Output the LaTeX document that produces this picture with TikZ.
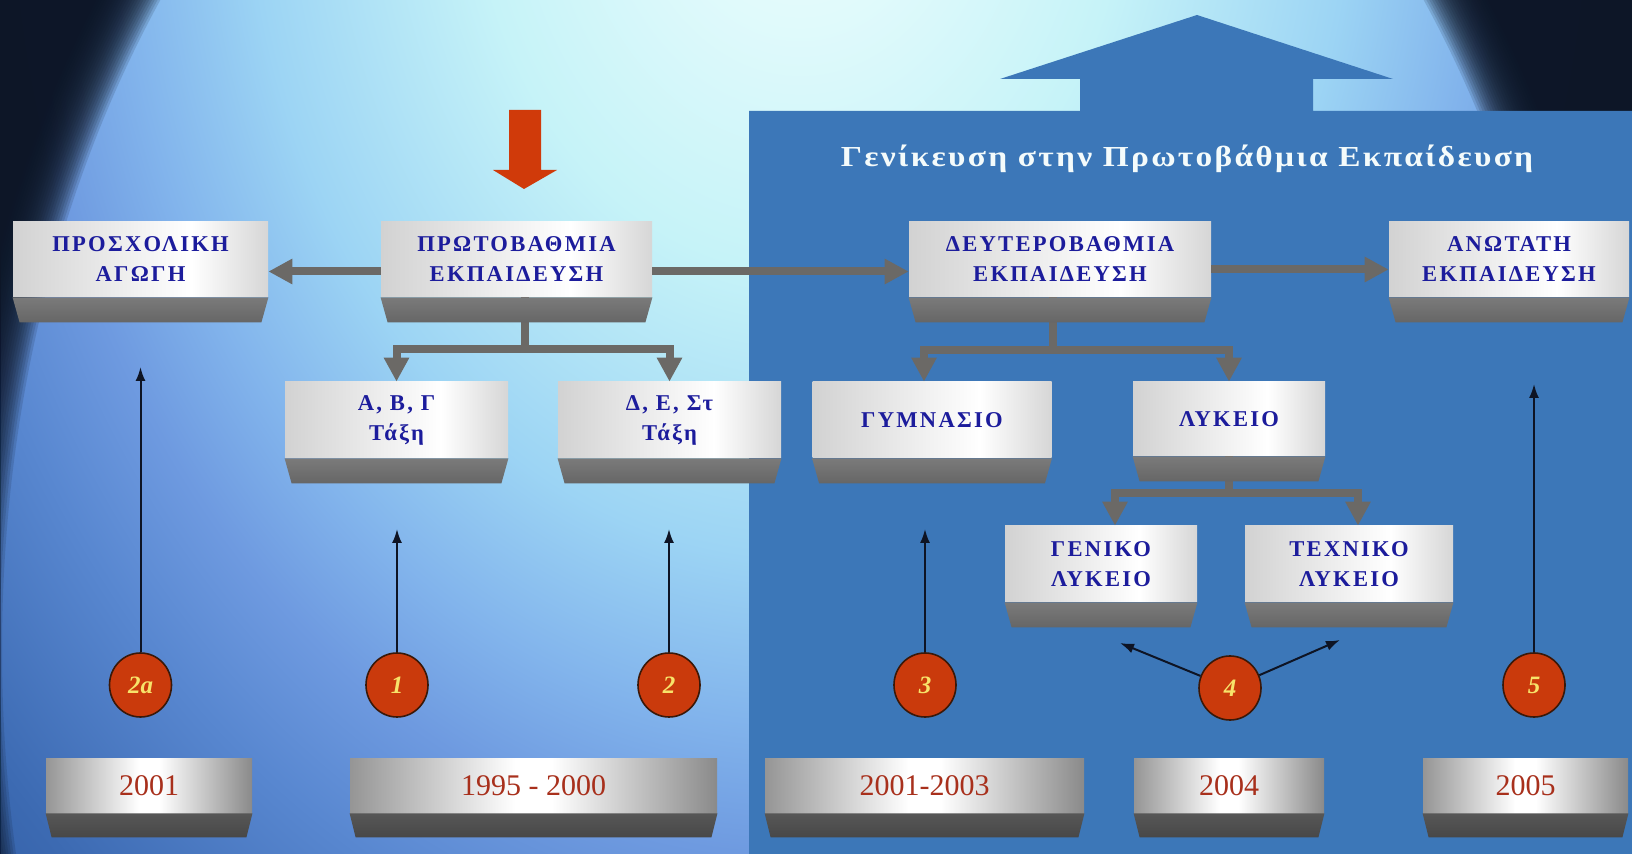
\documentclass[tikz,border=0pt]{standalone}
\usepackage{fontspec}
\setmainfont{Liberation Serif}
\newfontfamily\boxfont{Liberation Serif}[LetterSpace=10]
\newfontfamily\titlefont{Liberation Serif}[LetterSpace=8,FakeStretch=1.15]
\usetikzlibrary{shapes.geometric,arrows.meta}

\definecolor{darkbg}{HTML}{0D1626}
\definecolor{panelblue}{HTML}{3C77B8}
\definecolor{boxtext}{HTML}{1C1C9C}
\definecolor{yeartext}{HTML}{A8301C}
\definecolor{conngray}{HTML}{6B6966}
\definecolor{numred}{HTML}{CA3A0C}
\definecolor{numedge}{HTML}{3A1808}
\definecolor{numtext}{HTML}{F7E36A}
\definecolor{arrowred}{HTML}{D03A0A}
\definecolor{pointerblack}{HTML}{0E1424}
\definecolor{titlewhite}{HTML}{F4FBFB}
\definecolor{sp0}{HTML}{EEFDFD}
\definecolor{sp1}{HTML}{E0FAFB}
\definecolor{sp2}{HTML}{C6F3F8}
\definecolor{sp3}{HTML}{9CD4F4}
\definecolor{sp4}{HTML}{82B4EC}
\definecolor{sp5}{HTML}{6E9AE0}
\definecolor{sp6}{HTML}{5887D0}
\definecolor{sp7}{HTML}{3C6AB2}
\definecolor{sp8}{HTML}{335FA6}
\definecolor{bf0}{HTML}{D2D2D2}
\definecolor{bf1}{HTML}{D6D6D6}
\definecolor{yf0}{HTML}{959595}
\definecolor{yf1}{HTML}{8A8A8A}

% 25bp が図形の縁になる
\pgfdeclareradialshading{spot}{\pgfpointorigin}{color(0bp)=(sp0); color(2.9bp)=(sp1); color(7bp)=(sp2); color(11.8bp)=(sp3); color(14.6bp)=(sp4); color(16.8bp)=(sp5); color(19.2bp)=(sp6); color(23bp)=(sp7); color(25bp)=(sp8); color(50bp)=(sp8)}
\pgfdeclarehorizontalshading{boxface}{100bp}{color(0bp)=(bf0); color(25bp)=(bf0); color(60bp)=(white); color(75bp)=(bf1); color(100bp)=(bf1)}
\pgfdeclarehorizontalshading{yearface}{100bp}{color(0bp)=(yf0); color(25bp)=(yf0); color(47.5bp)=(white); color(52.5bp)=(white); color(75bp)=(yf1); color(100bp)=(yf1)}

\tikzset{
  edubox/.style={shade, shading=boxface, minimum height=37.5pt, inner sep=0pt, align=center,
    text=boxtext, font=\boxfont\bfseries\fontsize{11.3}{15}\selectfont},
  yearbox/.style={shade, shading=yearface, minimum height=27.5pt, inner sep=0pt,
    text=yeartext, font=\fontsize{15}{18}\selectfont},
  boxbase/.style={top color=black!52, bottom color=black!60},
  yearbase/.style={top color=black!66, bottom color=black!72},
  connline/.style={draw=conngray, line width=4pt},
  conn/.style={connline, -{Triangle[length=12pt,width=12pt]}},
  numdot/.style={ellipse, fill=numred, draw=numedge, line width=0.8pt, minimum width=31pt,
    minimum height=32pt, inner sep=0pt, text=numtext, font=\bfseries\itshape\fontsize{12.5}{14}\selectfont},
  pointer/.style={draw=pointerblack, line width=1pt, -{Latex[length=7pt,width=5pt]}},
  heading/.style={text=titlewhite, font=\titlefont\bfseries\fontsize{14.5}{17}\selectfont}
}

\begin{document}
\begin{tikzpicture}[x=0.5pt,y=-0.5pt]
  \useasboundingbox (0,0) rectangle (1632,854);
  \clip (0,0) rectangle (1632,854);
  % 背景の光
  \shade[shading=spot] (800,-150) ellipse [x radius=1170, y radius=1495];
  % 四隅を暗くする
  \foreach \i in {0,...,23} {
    \pgfmathsetmacro\ra{790+2.5*\i}
    \pgfmathsetmacro\rb{1082+2.5*\i}
    \fill[darkbg, opacity=0.14, even odd rule] (0,0) rectangle (1632,854) (792,650) ellipse [x radius=\ra, y radius=\rb];
  }
  % 右側の青いパネルと上向きの矢印
  \fill[panelblue] (749,854) -- (749,111) -- (1080,111) -- (1080,79) -- (1000,79) -- (1197,15)
    -- (1393,79) -- (1313,79) -- (1313,111) -- (1632,111) -- (1632,854) -- cycle;
  \node[heading, anchor=base] (gen) at (1187,167) {Γενίκευση στην Πρωτοβάθμια Εκπαίδευση};
  % 赤い下向きの矢印
  \fill[arrowred] (509,110) -- (541,110) -- (541,170) -- (557,170) -- (524,189) -- (493,170) -- (509,170) -- cycle;

  % 教育段階の箱
  \node[edubox, minimum width=127.5pt] (pre) at (140.5,259.5) {ΠΡΟΣΧΟΛΙΚΗ\\ΑΓΩΓΗ};
  \node[edubox, minimum width=135.5pt] (prim) at (516.5,259.5) {ΠΡΩΤΟΒΑΘΜΙΑ\\ΕΚΠΑΙΔΕΥΣΗ};
  \node[edubox, minimum width=151pt] (sec) at (1060,259.5) {ΔΕΥΤΕΡΟΒΑΘΜΙΑ\\ΕΚΠΑΙΔΕΥΣΗ};
  \node[edubox, minimum width=120pt] (high) at (1509,259.5) {ΑΝΩΤΑΤΗ\\ΕΚΠΑΙΔΕΥΣΗ};
  \node[edubox, minimum width=111.5pt, minimum height=38pt] (abg) at (396.5,420) {Α, Β, Γ\\Τάξη};
  \node[edubox, minimum width=111.5pt, minimum height=38pt] (dez) at (669.5,420) {Δ, Ε, Στ\\Τάξη};
  \node[edubox, minimum width=119.5pt, minimum height=38pt] (gym) at (932,420) {ΓΥΜΝΑΣΙΟ};
  \node[edubox, minimum width=96pt, minimum height=37pt] (lyk) at (1229,419) {ΛΥΚΕΙΟ};
  \node[edubox, minimum width=96pt, minimum height=38pt] (glyk) at (1101,564) {ΓΕΝΙΚΟ\\ΛΥΚΕΙΟ};
  \node[edubox, minimum width=104pt, minimum height=38pt] (tlyk) at (1349,564) {ΤΕΧΝΙΚΟ\\ΛΥΚΕΙΟ};

  % 年の箱
  \node[yearbox, minimum width=103pt] (y01) at (149,785.5) {2001};
  \node[yearbox, minimum width=183.5pt] (y9500) at (533.5,785.5) {1995 - 2000};
  \node[yearbox, minimum width=159.5pt] (y0103) at (924.5,785.5) {2001-2003};
  \node[yearbox, minimum width=95pt] (y04) at (1229,785.5) {2004};
  \node[yearbox, minimum width=102.5pt] (y05) at (1525.5,785.5) {2005};

  % 箱をつなぐ灰色の矢印
  \draw[conn] ([yshift=-6pt]prim.west) -- ([yshift=-6pt]pre.east);
  \draw[conn] ([yshift=-6pt]prim.east) -- ([yshift=-6pt]sec.west);
  \draw[conn] ([yshift=-5pt]sec.east) -- ([yshift=-5pt]high.west);
  \coordinate (pj) at (525,349);
  \draw[connline] (prim.south -| pj) -- (pj);
  \draw[conn] (pj) -| (abg.north);
  \draw[conn] (pj) -| (dez.north);
  \coordinate (sj) at (1053,350);
  \draw[connline] (sec.south -| sj) -- (sj);
  \draw[conn] (sj) -| ([xshift=-4pt]gym.north);
  \draw[conn] (sj) -| (lyk.north);
  \coordinate (lj) at (1229,493);
  \draw[connline] (lyk.south) -- (lj);
  \draw[conn] (lj) -| ([xshift=7pt]glyk.north);
  \draw[conn] (lj) -| ([xshift=4.5pt]tlyk.north);

  % 箱の下の影
  \foreach \n in {pre,prim,sec,high,abg,dez,gym,lyk,glyk,tlyk}
    \shade[boxbase] (\n.south west) -- (\n.south east) -- ([shift={(-7,25)}]\n.south east) -- ([shift={(7,25)}]\n.south west) -- cycle;
  \foreach \n in {y01,y9500,y0103,y04,y05}
    \shade[yearbase] (\n.south west) -- (\n.south east) -- ([shift={(-6,24)}]\n.south east) -- ([shift={(6,24)}]\n.south west) -- cycle;

  % 番号の丸
  \node[numdot] (n2a) at (140.5,685) {2a};
  \node[numdot] (n1) at (397,685) {1};
  \node[numdot] (n2) at (669,685) {2};
  \node[numdot] (n3) at (925,685) {3};
  \node[numdot] (n4) at (1230,688) {4};
  \node[numdot] (n5) at (1534,685) {5};

  % 黒い細い矢印
  \coordinate (t2a) at (140.5,367);
  \coordinate (t1) at (397,529);
  \coordinate (t2) at (669,529);
  \coordinate (t3) at (925,529);
  \coordinate (t4a) at (1120,643);
  \coordinate (t4b) at (1340,640);
  \coordinate (t5) at (1534,384);
  \draw[pointer] (n2a) -- (t2a);
  \draw[pointer] (n1) -- (t1);
  \draw[pointer] (n2) -- (t2);
  \draw[pointer] (n3) -- (t3);
  \draw[pointer] (n4) -- (t4a);
  \draw[pointer] (n4) -- (t4b);
  \draw[pointer] (n5) -- (t5);
\end{tikzpicture}
\end{document}
